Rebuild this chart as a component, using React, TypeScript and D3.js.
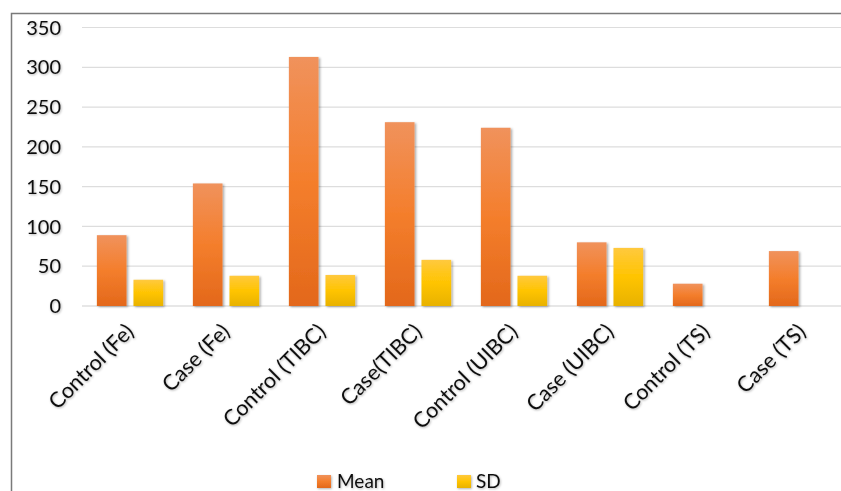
import React from "react";
import * as d3 from "d3";

const categories = [
  "Control (Fe)",
  "Case (Fe)",
  "Control (TIBC)",
  "Case(TIBC)",
  "Control (UIBC)",
  "Case (UIBC)",
  "Control (TS)",
  "Case (TS)",
];
const seriesNames = ["Mean", "SD"];
const meanValues = [89, 154, 313, 231, 224, 80, 28, 69];
const sdValues = [33, 38, 39, 58, 38, 73, 0, 0];
const yTicks = [0, 50, 100, 150, 200, 250, 300, 350];

const W = 841;
const H = 491;
const FONT = "Lato, 'Open Sans', sans-serif";

export default function App() {
  const x0 = d3
    .scaleBand<string>()
    .domain(categories)
    .range([82, 850])
    .paddingInner(0.31)
    .paddingOuter(0.155);
  const x1 = d3
    .scaleBand<string>()
    .domain(seriesNames)
    .range([0, x0.bandwidth()])
    .paddingInner(0.19);
  const y = d3.scaleLinear().domain([0, 350]).range([306, 27.5]);

  const series = [
    { name: "Mean", values: meanValues, fill: "url(#gMean)" },
    { name: "SD", values: sdValues, fill: "url(#gSD)" },
  ];

  return (
    <div style={{ position: "absolute", left: 0, top: 0 }}>
      <svg width={W} height={H} style={{ display: "block", background: "#fff" }}>
        <defs>
          <linearGradient id="gMean" x1="0" y1="0" x2="0" y2="1">
            <stop offset="0" stopColor="#F0925C" />
            <stop offset="0.5" stopColor="#F47E2C" />
            <stop offset="1" stopColor="#E3681B" />
          </linearGradient>
          <linearGradient id="gSD" x1="0" y1="0" x2="0" y2="1">
            <stop offset="0" stopColor="#FFC93E" />
            <stop offset="0.5" stopColor="#FFC400" />
            <stop offset="1" stopColor="#E8B200" />
          </linearGradient>
          <filter id="shadow" x="-20%" y="-20%" width="140%" height="140%">
            <feDropShadow dx="1.5" dy="1" stdDeviation="1.2" floodColor="#000" floodOpacity="0.35" />
          </filter>
          <filter id="tshadow" x="-10%" y="-10%" width="120%" height="130%">
            <feDropShadow dx="0.8" dy="1" stdDeviation="0.8" floodColor="#000" floodOpacity="0.3" />
          </filter>
        </defs>

        {/* outer frame */}
        <path d={`M11.5,${H} V13.5 H${W}`} fill="none" stroke="#7a7a7a" strokeWidth={1.5} />

        {/* gridlines */}
        {yTicks.map((t) => (
          <line
            key={t}
            x1={82}
            x2={W}
            y1={y(t)}
            y2={y(t)}
            stroke={t === 0 ? "#D0D0D0" : "#DDDDDD"}
            strokeWidth={1.2}
          />
        ))}

        {/* y tick labels */}
        <g filter="url(#tshadow)">
          {yTicks.map((t) => (
            <text
              key={t}
              x={61}
              y={y(t)}
              dy="0.36em"
              textAnchor="end"
              fontFamily={FONT}
              fontSize={20}
              fill="#111"
            >
              {t}
            </text>
          ))}
        </g>

        {/* bars */}
        <g filter="url(#shadow)">
          {categories.map((c, i) => (
            <g key={c} transform={`translate(${x0(c)},0)`}>
              {series.map((s) =>
                s.values[i] > 0 ? (
                  <rect
                    key={s.name}
                    x={x1(s.name)}
                    y={y(s.values[i])}
                    width={x1.bandwidth()}
                    height={y(0) - y(s.values[i])}
                    fill={s.fill}
                  />
                ) : null
              )}
            </g>
          ))}
        </g>

        {/* x labels */}
        <g filter="url(#tshadow)">
          {categories.map((c) => {
            const cx = (x0(c) as number) + x0.bandwidth() / 2 + 5;
            return (
              <text
                key={c}
                transform={`translate(${cx},333) rotate(-45)`}
                textAnchor="end"
                fontFamily={FONT}
                fontSize={21.5}
                fill="#111"
              >
                {c}
              </text>
            );
          })}
        </g>

        {/* legend */}
        <g filter="url(#tshadow)">
          <rect x={317} y={475} width={14} height={13} fill="url(#gMean)" />
          <text x={337} y={488} fontFamily={FONT} fontSize={19} fill="#111">
            Mean
          </text>
          <rect x={457} y={475} width={14} height={13} fill="url(#gSD)" />
          <text x={476} y={488} fontFamily={FONT} fontSize={19} fill="#111">
            SD
          </text>
        </g>
      </svg>
    </div>
  );
}
